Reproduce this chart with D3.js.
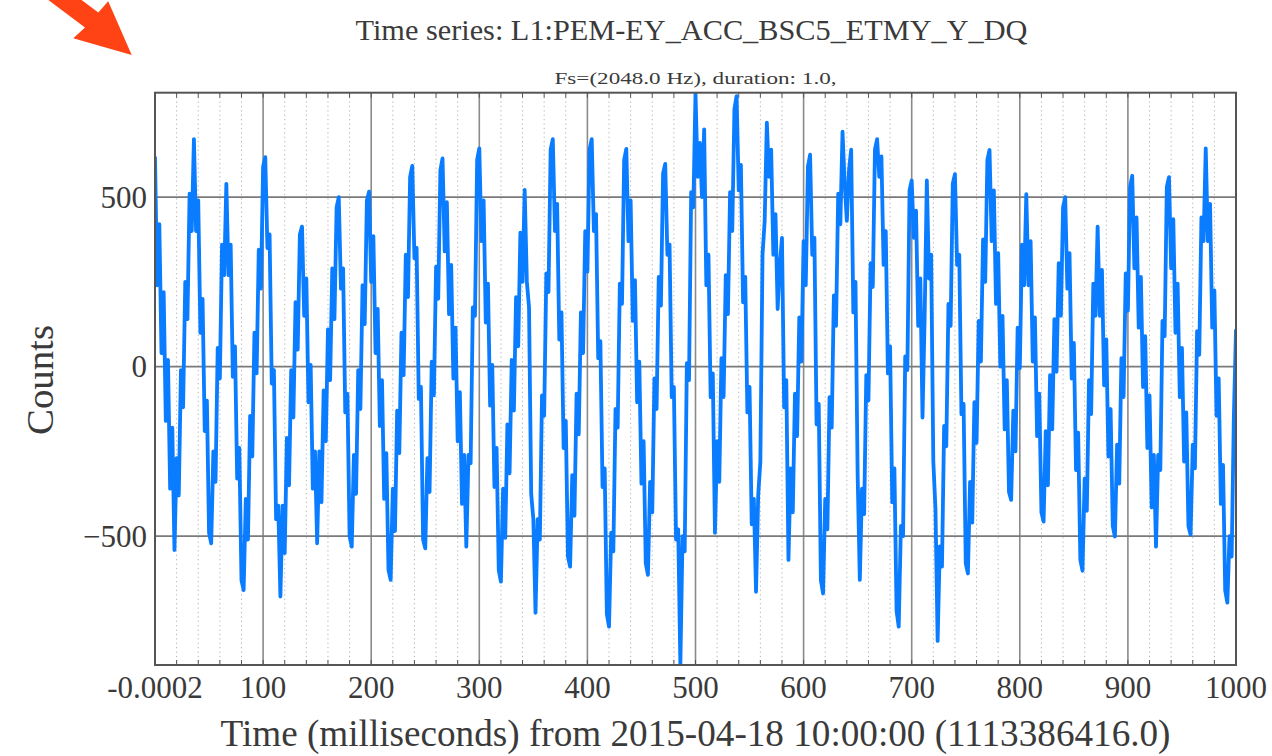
<!DOCTYPE html>
<html>
<head>
<meta charset="utf-8">
<script src="https://cdnjs.cloudflare.com/ajax/libs/d3/7.8.5/d3.min.js"></script>
<style>
body { margin: 0; background: #fff; }
text { font-family: "Liberation Serif", "DejaVu Serif", serif; fill: #3a3a3a; }
</style>
</head>
<body>
<div id="container"></div>
<script>
// one value kept every 2 ms (peaks/troughs per cycle + the jitter between)
var stepMs = 2;
var counts = [
    620, 240, 420, 40, 220, -160, 20, -360, -180, -541,
    -270, -380, -10, -120, 250, 140, 510, 400, 671,
    400, 490, 100, 200, -190, -100, -490, -521,
    -250, -340, 55, -35, 360, 270, 539,
    270, 360, -30, 60, -330, -240, -630, -659,
    -390, -510, -145, -265, 100, -20, 345, 230, 590, 618,
    350, 390, -50, -10, -450, -410, -678,
    -410, -550, -210, -350, -10, -150, 190, 50, 390, 413,
    150, 260, -105, 5, -360, -250, -521,
    -250, -400, -70, -220, 110, -40, 290, 140, 470, 500,
    230, 290, -135, -80, -500, -531,
    -260, -375, -10, -125, 240, 125, 490, 516,
    250, 385, 40, 170, -175, -40, -390, -255, -600, -629,
    -360, -485, -130, -255, 100, -25, 330, 205, 560, 592,
    320, 350, -95, -60, -510, -536,
    -270, -370, 15, -85, 295, 200, 580, 614,
    340, 485, 155, 300, -35, 115, -220, -75, -405, -260, -531,
    -260, -285, 175, 150, 610, 644,
    370, 490, 130, 245, -115, 5, -355, -240, -600, -634,
    -360, -505, -170, -315, 20, -130, 205, 60, 395, 250, 521,
    250, 175, -375, -450, -726,
    -450, -510, -85, -145, 275, 220, 640, 671,
    400, 480, 80, 160, -240, -160, -560, -590,
    -320, -440, -80, -200, 160, 40, 400, 280, 640, 671,
    400, 450, 25, 75, -355, -300, -730, -767,
    -490, -545, -125, -180, 245, 185, 610, 642,
    370, 490, 135, 255, -105, 15, -345, -220, -580, -614,
    -340, -430, -35, -125, 265, 180, 570, 598,
    330, 360, -90, -60, -510, -480, -880,
    -500, -545, 10, -40, 515, 470, 806,
    560, 660, 500, 700, 240, 330, -90, -20, -490,
    -220, -340, 25, -90, 270, 155, 515, 400, 760, 798,
    520, 595, 190, 265, -135, -60, -465, -390, -664,
    -380, -280, 330, 430, 720,
    560, 640, 330, 450, 170, 300, 380, -120, -40, -570,
    -300, -430, -80, -205, 145, 15, 370, 240, 590, 625,
    330, 380, -170, -110, -630, -669,
    -390, -480, -90, -180, 210, 120, 510, 420, 693,
    540, 430, 580, 640, 160, 250, -320, -629,
    -360, -435, -25, -100, 305, 235, 640, 671,
    560, 620, 300, 400, -20, 60, -400, -300, -720, -767,
    -470, -500, 30, -10, 520, 549,
    380, 460, 120, 260, -150, 150, 549,
    260, 330, -280, -420, -809,
    -530, -590, -175, -235, 185, 120, 540, 568,
    300, 330, -140, -110, -580, -610,
    -340, -460, -105, -225, 135, 15, 375, 250, 610, 639,
    370, 520, 185, 335, 0, 150, -185, -40, -370, -393,
    -130, -250, 115, -5, 360, 240, 509,
    240, 370, 15, 145, -205, -80, -430, -457,
    -190, -350, -25, -185, 140, -15, 305, 150, 470, 500,
    230, 335, -35, 70, -305, -195, -570, -602,
    -330, -425, -40, -140, 245, 150, 413,
    150, 285, -55, 80, -265, -125, -470, -501,
    -230, -345, 25, -90, 275, 165, 530, 563,
    290, 440, 115, 265, -60, 90, -240, -85, -415, -260, -531,
    -260, -305, 135, 90, 530, 559,
    290, 435, 100, 245, -90, 55, -280, -135, -470, -496,
    -230, -300, 105, 35, 440, 370, 644,
    370, 480, 115, 225, -145, -35, -405, -290, -660, -696,
    -500, -560, -150, 110
];

var xTickValues = [0, 100, 200, 300, 400, 500, 600, 700, 800, 900, 1000];
var xTickLabels = ["-0.0002", "100", "200", "300", "400", "500", "600", "700", "800", "900", "1000"];
var xMinorValues = d3.range(0, 1001, 20);
var yTickValues = [-500, 0, 500];
var yTickLabels = ["\u2212500", "0", "500"];
var yLimits = [-880, 808];

var titleText = "Time series:  L1:PEM-EY_ACC_BSC5_ETMY_Y_DQ";
var subtitleText = "Fs=(2048.0 Hz), duration: 1.0,";
var xLabelText = "Time (milliseconds) from 2015-04-18 10:00:00 (1113386416.0)";
var yLabelText = "Counts";

function init() {
    var W = 1272, H = 756;
    var left = 155, right = 1236, top = 92.7, bottom = 665;

    var data = counts.map(function (v, i) {
        return {ms: i * stepMs, value: v};
    });

    var x = d3.scaleLinear().domain([0, 1000]).range([left, right]);
    var y = d3.scaleLinear().domain(yLimits).range([bottom, top]);

    var svg = d3.select("#container")
        .append("svg")
        .attr("width", W)
        .attr("height", H);

    svg.append("defs").append("clipPath")
        .attr("id", "plotclip")
        .append("rect")
        .attr("x", left).attr("y", top)
        .attr("width", right - left).attr("height", bottom - top);

    // minor dotted grid
    svg.append("g").selectAll("line")
        .data(xMinorValues.filter(function (d) { return d % 100 !== 0; }))
        .enter().append("line")
        .attr("x1", function (d) { return x(d); })
        .attr("x2", function (d) { return x(d); })
        .attr("y1", top).attr("y2", bottom)
        .attr("stroke", "#b0b0b0")
        .attr("stroke-width", 1)
        .attr("stroke-dasharray", "1.2,3.2");

    // major grid
    svg.append("g").selectAll("line")
        .data(xTickValues.slice(1, -1))
        .enter().append("line")
        .attr("x1", function (d) { return x(d); })
        .attr("x2", function (d) { return x(d); })
        .attr("y1", top).attr("y2", bottom)
        .attr("stroke", "#8a8a8a")
        .attr("stroke-width", 1.6);
    svg.append("g").selectAll("line")
        .data(yTickValues)
        .enter().append("line")
        .attr("x1", left).attr("x2", right)
        .attr("y1", function (d) { return y(d); })
        .attr("y2", function (d) { return y(d); })
        .attr("stroke", "#7a7a7a")
        .attr("stroke-width", 1.8);

    // minor ticks top and bottom
    var tickG = svg.append("g").attr("stroke", "#555").attr("stroke-width", 1);
    tickG.selectAll(".tb").data(xMinorValues).enter().append("line")
        .attr("x1", function (d) { return x(d); })
        .attr("x2", function (d) { return x(d); })
        .attr("y1", bottom).attr("y2", bottom - 5);
    tickG.selectAll(".tt").data(xMinorValues).enter().append("line")
        .attr("x1", function (d) { return x(d); })
        .attr("x2", function (d) { return x(d); })
        .attr("y1", top).attr("y2", top + 5);

    var lg = d3.line()
        .x(function (d) { return x(d.ms); })
        .y(function (d) { return y(d.value); });

    svg.append("path")
        .datum(data)
        .attr("clip-path", "url(#plotclip)")
        .attr("d", lg)
        .attr("fill", "none")
        .attr("stroke", "#0a7cff")
        .attr("stroke-width", 3.8)
        .attr("stroke-linejoin", "round");

    // frame
    svg.append("rect")
        .attr("x", left).attr("y", top)
        .attr("width", right - left).attr("height", bottom - top)
        .attr("fill", "none")
        .attr("stroke", "#555")
        .attr("stroke-width", 2);

    // tick labels
    svg.append("g").selectAll("text")
        .data(xTickValues)
        .enter().append("text")
        .attr("x", function (d) { return x(d); })
        .attr("y", bottom + 33)
        .attr("text-anchor", "middle")
        .style("font-size", "31px")
        .text(function (d, i) { return xTickLabels[i]; });

    svg.append("g").selectAll("text")
        .data(yTickValues)
        .enter().append("text")
        .attr("x", left - 8)
        .attr("y", function (d) { return y(d); })
        .attr("dy", "0.35em")
        .attr("text-anchor", "end")
        .style("font-size", "31px")
        .text(function (d, i) { return yTickLabels[i]; });

    // titles
    svg.append("text")
        .attr("x", (left + right) / 2 - 4)
        .attr("y", 40)
        .attr("text-anchor", "middle")
        .attr("textLength", 672)
        .attr("lengthAdjust", "spacingAndGlyphs")
        .style("font-size", "29px")
        .text(titleText);

    svg.append("text")
        .attr("x", (left + right) / 2)
        .attr("y", 84)
        .attr("text-anchor", "middle")
        .attr("textLength", 282)
        .attr("lengthAdjust", "spacingAndGlyphs")
        .style("font-size", "16px")
        .text(subtitleText);

    svg.append("text")
        .attr("x", (left + right) / 2)
        .attr("y", 746)
        .attr("text-anchor", "middle")
        .attr("textLength", 950)
        .attr("lengthAdjust", "spacingAndGlyphs")
        .style("font-size", "38px")
        .text(xLabelText);

    svg.append("text")
        .attr("transform", "translate(53," + 380 + ") rotate(-90)")
        .attr("text-anchor", "middle")
        .attr("textLength", 110)
        .attr("lengthAdjust", "spacingAndGlyphs")
        .style("font-size", "37px")
        .text(yLabelText);

    // red arrow in the corner
    svg.append("path")
        .attr("d", "M -13,-46 L 85,27.5 L 73.3,38.3 L 131.7,55 L 108.2,1.3 L 98.3,12.5 L 0,-61 Z")
        .attr("fill", "#ff4314");
}

init();
</script>
</body>
</html>
